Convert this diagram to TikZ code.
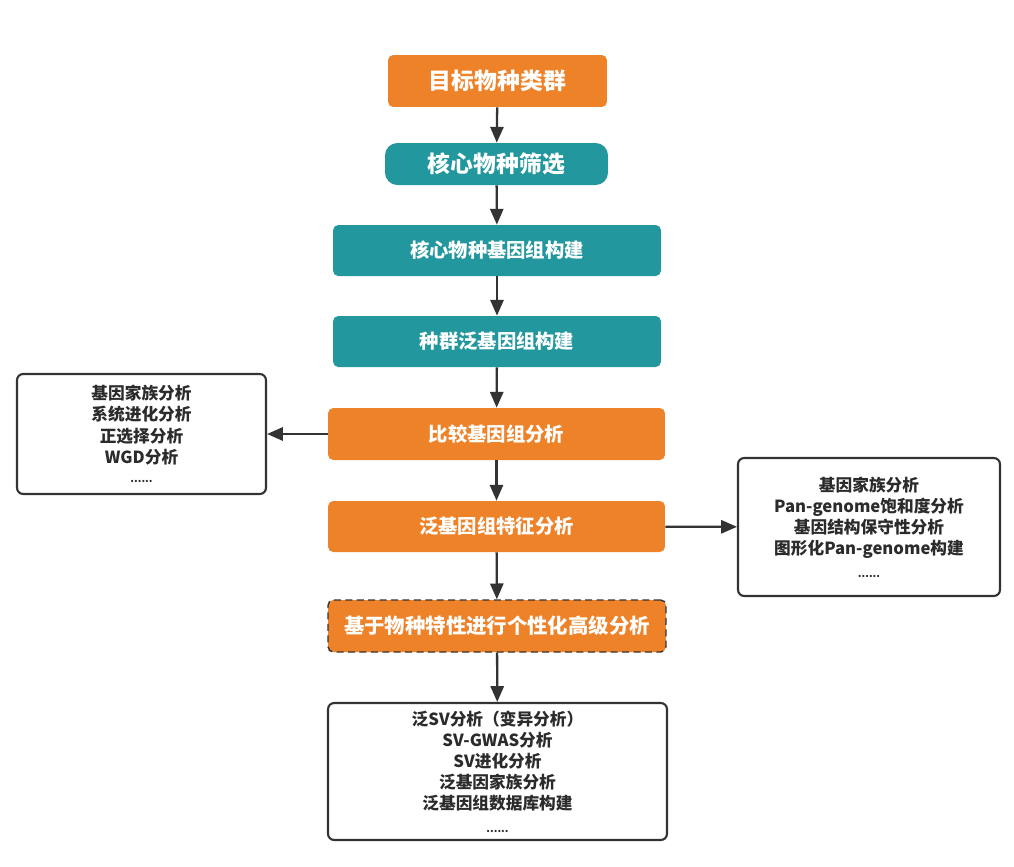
\documentclass[tikz,border=0pt]{standalone}
\usepackage{fontspec}
\setmainfont{Noto Sans CJK SC}
\usetikzlibrary{arrows.meta}
\definecolor{myorange}{HTML}{EE8229}
\definecolor{myteal}{HTML}{22979E}
\definecolor{mydark}{HTML}{333333}
\definecolor{mytext}{HTML}{2B2B2B}
\tikzset{
  flowbox/.style={rectangle, rounded corners=3pt, inner sep=0pt, align=center, text=white, font=\bfseries\fontsize{11}{13}\selectfont},
  orangebox/.style={flowbox, fill=myorange},
  tealbox/.style={flowbox, fill=myteal},
  listbox/.style={rectangle, rounded corners=3.5pt, draw=mydark, line width=1.2pt, fill=white, inner sep=0pt, align=center, text=mytext, font=\bfseries\fontsize{9.5}{12}\selectfont},
  arr/.style={draw=mydark, line width=1.3pt, -{Triangle[length=9pt,width=7.5pt]}}
}
\begin{document}
\begin{tikzpicture}[x=0.02cm, y=-0.02cm]
\useasboundingbox (0,0) rectangle (1014,866);
\fill[white] (0,0) rectangle (1014,866);
\node[orangebox, minimum width=4.38cm, minimum height=1.04cm, font=\bfseries\fontsize{13}{15}\selectfont] (n1) at (497.5,81) {目标物种类群};
\node[tealbox, rounded corners=7pt, minimum width=4.46cm, minimum height=0.84cm, font=\bfseries\fontsize{13}{15}\selectfont] (n2) at (496.5,164) {核心物种筛选};
\node[tealbox, minimum width=6.56cm, minimum height=1.02cm] (n3) at (497,250.5) {核心物种基因组构建};
\node[tealbox, minimum width=6.56cm, minimum height=1.02cm] (n4) at (497,341.5) {种群泛基因组构建};
\node[orangebox, minimum width=6.74cm, minimum height=1.04cm] (n5) at (496.5,434) {比较基因组分析};
\node[orangebox, minimum width=6.74cm, minimum height=1.02cm] (n6) at (496.5,526.5) {泛基因组特征分析};
\node[orangebox, draw=mydark, dashed, dash pattern=on 4pt off 2.5pt, line width=0.8pt, minimum width=6.76cm, minimum height=1.04cm, font=\bfseries\fontsize{11.6}{13}\selectfont] (n7) at (497,626) {基于物种特性进行个性化高级分析};
\node[listbox, minimum width=4.98cm, minimum height=2.4cm] (left) at (141.5,434) {基因家族分析\\系统进化分析\\正选择分析\\WGD分析\\[-1pt]{\fontsize{6}{8}\selectfont ......}};
\node[listbox, minimum width=5.24cm, minimum height=2.76cm] (right) at (869,527) {基因家族分析\\Pan-genome饱和度分析\\基因结构保守性分析\\图形化Pan-genome构建\\[1pt]{\fontsize{6}{8}\selectfont ......}};
\node[listbox, minimum width=6.78cm, minimum height=2.74cm] (bottom) at (497.5,771.5) {泛SV分析（变异分析）\\SV-GWAS分析\\SV进化分析\\泛基因家族分析\\泛基因组数据库构建\\[1pt]{\fontsize{6}{8}\selectfont ......}};
\draw[arr] (n1) -- (n2);
\draw[arr] (n2) -- (n3);
\draw[arr] (n3) -- (n4);
\draw[arr] (n4) -- (n5);
\draw[arr] (n5) -- (n6);
\draw[arr] (n6) -- (n7);
\draw[arr] (n7) -- (bottom);
\draw[arr] (n5) -- (left);
\draw[arr] (n6) -- (right);
\end{tikzpicture}
\end{document}
